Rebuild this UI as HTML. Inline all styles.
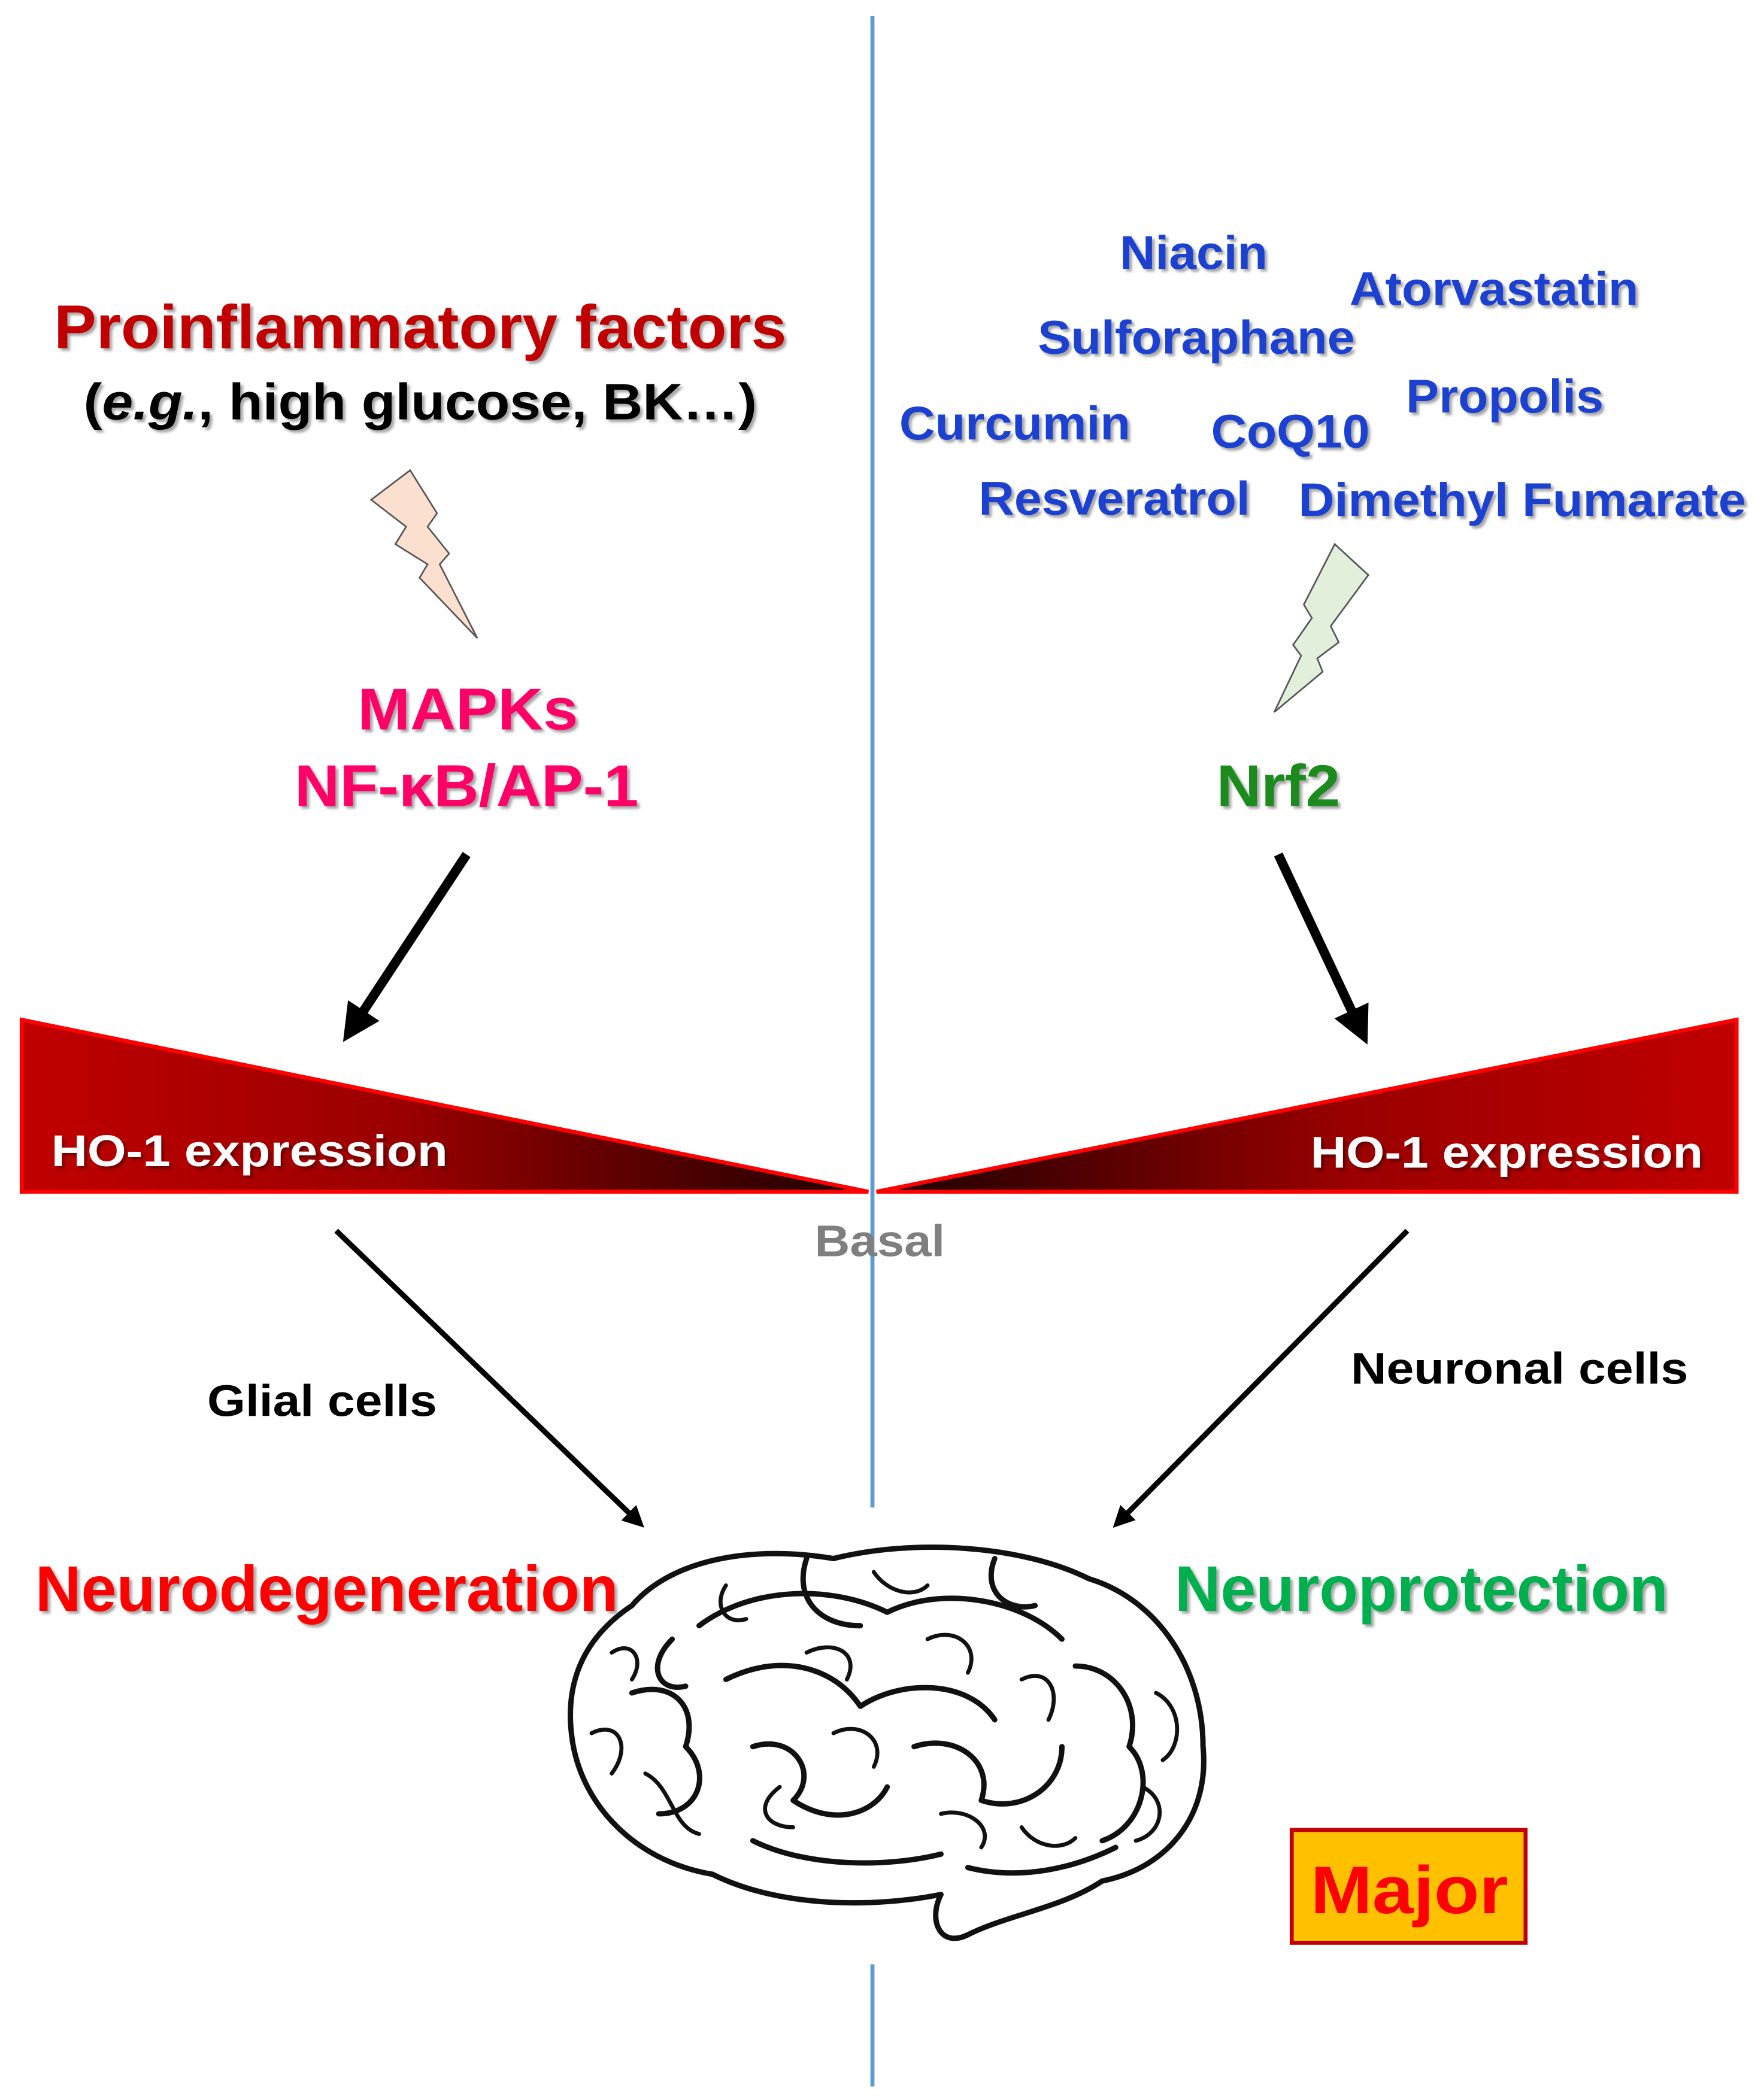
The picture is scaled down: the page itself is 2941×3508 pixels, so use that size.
<!DOCTYPE html>
<html><head><meta charset="utf-8"><style>
html,body{margin:0;padding:0;background:#fff}
svg{display:block}
text{font-family:"Liberation Sans",sans-serif;font-weight:bold}
</style></head><body>
<svg width="2941" height="3508" viewBox="0 0 1310 1563" xmlns="http://www.w3.org/2000/svg">
<defs>
<linearGradient id="gl" x1="0" x2="1" y1="0" y2="0"><stop offset="0" stop-color="#c00000"/><stop offset="0.45" stop-color="#9a0000"/><stop offset="1" stop-color="#1a0000"/></linearGradient>
<linearGradient id="gr" x1="1" x2="0" y1="0" y2="0"><stop offset="0" stop-color="#c00000"/><stop offset="0.45" stop-color="#9a0000"/><stop offset="1" stop-color="#1a0000"/></linearGradient>
<filter id="sh"><feDropShadow dx="2" dy="2" stdDeviation="1" flood-color="#000" flood-opacity="0.35"/></filter>
<marker id="ah" markerWidth="4" markerHeight="4" refX="2.2" refY="2" orient="auto" markerUnits="strokeWidth"><path d="M0,0 L4,2 L0,4 Z" fill="#000"/></marker>
</defs>
<line x1="649" y1="12" x2="649" y2="1122" stroke="#5b9bd5" stroke-width="3"/>
<line x1="649" y1="1462" x2="649" y2="1553" stroke="#5b9bd5" stroke-width="3"/>

<g filter="url(#sh)" lengthAdjust="spacingAndGlyphs">
<text x="40" y="259" font-size="46" fill="#c00000" textLength="545" lengthAdjust="spacingAndGlyphs">Proinflammatory factors</text>
<text x="62" y="312" font-size="38" fill="#000" textLength="501" lengthAdjust="spacingAndGlyphs">(<tspan font-style="italic">e.g.</tspan>, high glucose, BK…)</text>
<text x="266" y="543" font-size="44" fill="#ff0066" textLength="164" lengthAdjust="spacingAndGlyphs">MAPKs</text>
<text x="219" y="600" font-size="44" fill="#ff0066" textLength="256" lengthAdjust="spacingAndGlyphs">NF-κB/AP-1</text>
<text x="905" y="600" font-size="44" fill="#1a8a1a" textLength="92" lengthAdjust="spacingAndGlyphs">Nrf2</text>
<g font-size="35" fill="#1a3fd0">
<text x="833" y="200" textLength="110" lengthAdjust="spacingAndGlyphs">Niacin</text>
<text x="1004" y="227" textLength="215" lengthAdjust="spacingAndGlyphs">Atorvastatin</text>
<text x="772" y="263" textLength="236" lengthAdjust="spacingAndGlyphs">Sulforaphane</text>
<text x="1046" y="307" textLength="147" lengthAdjust="spacingAndGlyphs">Propolis</text>
<text x="669" y="327" textLength="172" lengthAdjust="spacingAndGlyphs">Curcumin</text>
<text x="901" y="333" textLength="118" lengthAdjust="spacingAndGlyphs">CoQ10</text>
<text x="728" y="383" textLength="202" lengthAdjust="spacingAndGlyphs">Resveratrol</text>
<text x="966" y="384" textLength="333" lengthAdjust="spacingAndGlyphs">Dimethyl Fumarate</text>
</g>
<text x="26" y="1199" font-size="48" fill="#ff0000" textLength="434" lengthAdjust="spacingAndGlyphs">Neurodegeneration</text>
<text x="874" y="1199" font-size="48" fill="#00b050" textLength="367" lengthAdjust="spacingAndGlyphs">Neuroprotection</text>
</g>

<path d="M305,350 L276,372 L302,392 L294,405 L318,420 L312,430 L355,475 L327,420 L334,412 L318,392 L325,382 Z" fill="#fbe0cf" stroke="#555" stroke-width="1.2"/>
<path d="M993,405 L1018,428 L990,466 L996,478 L980,490 L984,500 L948,530 L968,488 L962,480 L976,460 L970,450 Z" fill="#e2efda" stroke="#555" stroke-width="1.2"/>

<line x1="347" y1="636" x2="262" y2="765" stroke="#000" stroke-width="7" marker-end="url(#ah)"/>
<line x1="951" y1="636" x2="1012" y2="766" stroke="#000" stroke-width="7" marker-end="url(#ah)"/>

<polygon points="16,759 16,887 646,887" fill="url(#gl)" stroke="#ff0000" stroke-width="3"/>
<polygon points="1292,759 1292,887 652,887" fill="url(#gr)" stroke="#ff0000" stroke-width="3"/>
<g filter="url(#sh)">
<text x="38" y="868" font-size="33" fill="#fff" textLength="295" lengthAdjust="spacingAndGlyphs">HO-1 expression</text>
<text x="975" y="869" font-size="33" fill="#fff" textLength="292" lengthAdjust="spacingAndGlyphs">HO-1 expression</text>
</g>
<text x="606" y="935" font-size="33" fill="#7f7f7f" textLength="97" lengthAdjust="spacingAndGlyphs">Basal</text>

<line x1="250" y1="916" x2="474" y2="1132" stroke="#000" stroke-width="4" marker-end="url(#ah)"/>
<line x1="1047" y1="916" x2="833" y2="1132" stroke="#000" stroke-width="4" marker-end="url(#ah)"/>
<text x="154" y="1054" font-size="33" fill="#000" textLength="171" lengthAdjust="spacingAndGlyphs">Glial cells</text>
<text x="1005" y="1030" font-size="33" fill="#000" textLength="251" lengthAdjust="spacingAndGlyphs">Neuronal cells</text>

<g fill="none" stroke="#111" stroke-width="4" stroke-linecap="round" stroke-linejoin="round">
<path d="M470,1195 C500,1160 560,1150 620,1160 C680,1145 760,1150 810,1175 C860,1190 895,1240 895,1300 C900,1350 870,1390 820,1400 C790,1420 750,1425 720,1440 C700,1450 690,1430 700,1410 C650,1420 580,1420 530,1395 C470,1385 430,1340 425,1290 C420,1245 440,1215 470,1195 Z"/>
<path d="M520,1210 C560,1180 620,1180 660,1200 C700,1180 760,1190 790,1220 M540,1250 C580,1230 620,1240 640,1270 C670,1250 720,1250 740,1280 M470,1260 C500,1250 520,1270 510,1300 C530,1320 520,1350 490,1350 M560,1300 C590,1290 610,1320 590,1340 C620,1360 650,1350 660,1330 M680,1300 C710,1290 740,1310 730,1340 C760,1350 790,1330 790,1300 M800,1240 C830,1240 850,1270 840,1300 C860,1320 850,1360 820,1370 M560,1370 C600,1390 660,1390 700,1380 M720,1390 C760,1400 800,1390 830,1375 M600,1160 C590,1190 610,1210 640,1210 M740,1160 C730,1185 750,1200 770,1195 M500,1220 C480,1240 490,1260 510,1255"/>
<path stroke-width="3" d="M455,1230 C470,1220 480,1235 470,1250 M440,1290 C460,1280 470,1300 455,1320 M480,1320 C500,1330 500,1360 520,1365 M600,1230 C620,1220 640,1230 630,1250 M690,1220 C710,1210 730,1225 720,1245 M760,1250 C780,1240 790,1260 780,1280 M620,1290 C640,1280 660,1295 650,1315 M700,1350 C720,1345 740,1360 730,1375 M580,1330 C560,1345 570,1360 590,1360 M860,1260 C880,1270 880,1300 865,1310 M850,1330 C870,1340 865,1365 845,1370 M760,1360 C770,1375 790,1378 800,1368 M650,1170 C660,1185 680,1190 690,1180 M540,1180 C530,1195 540,1210 555,1205"/>
</g>

<rect x="961" y="1362" width="174" height="84" fill="#ffc000" stroke="#c00000" stroke-width="3"/>
<text x="975" y="1424" font-size="50" fill="#ff0000" textLength="147" lengthAdjust="spacingAndGlyphs">Major</text>
</svg>
</body></html>
